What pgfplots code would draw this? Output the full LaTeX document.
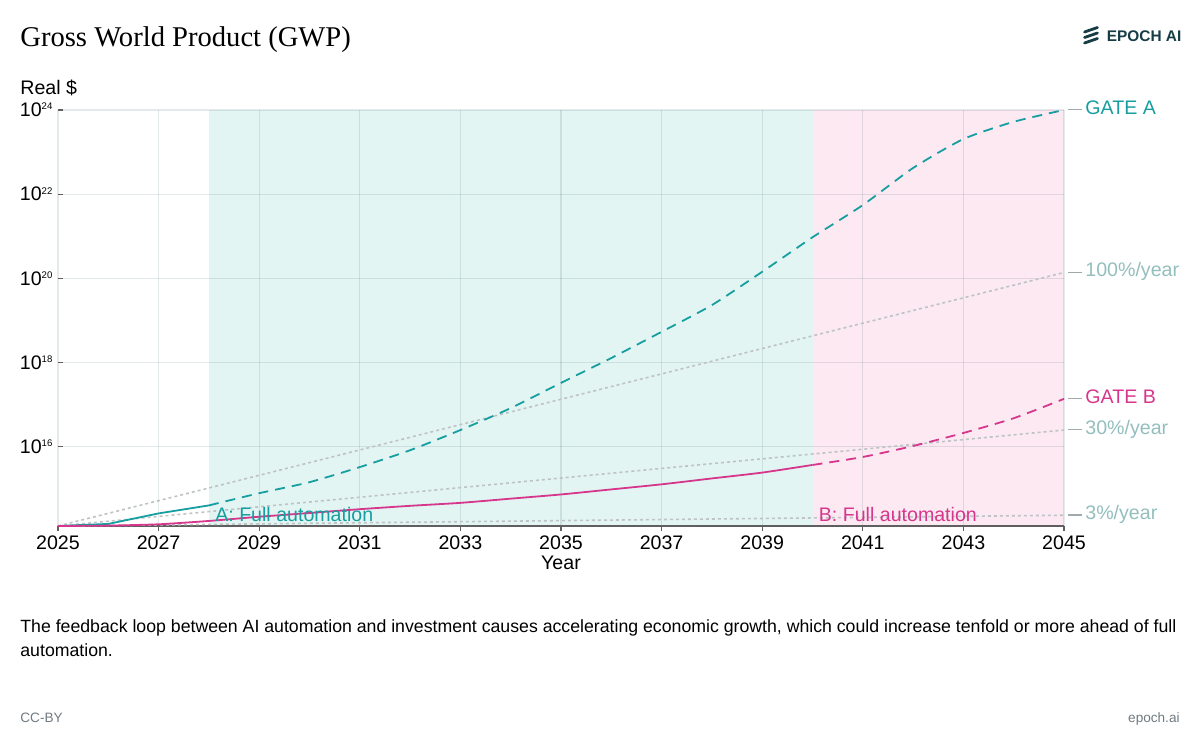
\documentclass[border=0pt]{standalone}
\usepackage{fontspec}
\setmainfont{Liberation Sans}
\newfontfamily\titlefont{Liberation Serif}
\usepackage{pgfplots}
\pgfplotsset{compat=1.18}

\definecolor{gateA}{RGB}{22,158,160}
\definecolor{gateB}{RGB}{214,54,140}
\definecolor{fillA}{RGB}{226,245,243}
\definecolor{fillB}{RGB}{252,233,242}
\definecolor{gridc}{RGB}{228,233,235}
\definecolor{refline}{RGB}{190,195,197}
\definecolor{ratelabel}{RGB}{148,190,190}
\definecolor{dashgray}{RGB}{160,170,172}
\definecolor{axisgray}{RGB}{95,95,95}
\definecolor{logoink}{RGB}{22,60,70}
\definecolor{footgray}{RGB}{112,122,128}

\newcommand\chartfont{\fontsize{9.8}{11.5}\selectfont}
\newcommand\sups[1]{\raisebox{3.4pt}{\fontsize{4.8}{5}\selectfont#1}}
\tikzset{endlabel/.style={anchor=base west, inner sep=0, font=\chartfont, xshift=2pt, yshift=-2.2pt}}
\newcommand\leaddash{\textcolor{dashgray}{\rule[2pt]{7pt}{0.6pt}}\hspace{1.5pt}}

% GWP trajectories (real $), one row per year
\pgfplotstableread{
year  gwp
2025  1.32e14
2026  1.48e14
2027  2.63e14
2028  4.07e14
}\gateAobs
\pgfplotstableread{
year  gwp
2028  4.07e14
2029  7.94e14
2030  1.45e15
2031  3.31e15
2032  8.32e15
2033  2.51e16
2034  8.32e16
2035  3.31e17
2036  1.29e18
2037  5.40e18
2038  2.33e19
2039  1.44e20
2040  9.48e20
2041  5.53e21
2042  4.20e22
2043  2.04e23
2044  5.25e23
2045  1.00e24
}\gateAproj
\pgfplotstableread{
year  gwp
2025  1.32e14
2026  1.35e14
2027  1.45e14
2028  1.74e14
2029  2.19e14
2030  2.69e14
2031  3.31e14
2032  3.98e14
2033  4.68e14
2034  5.89e14
2035  7.41e14
2036  9.77e14
2037  1.29e15
2038  1.78e15
2039  2.45e15
2040  3.72e15
}\gateBobs
\pgfplotstableread{
year  gwp
2040  3.72e15
2041  5.75e15
2042  1.05e16
2043  2.14e16
2044  4.79e16
2045  1.38e17
}\gateBproj

\begin{document}
\begin{tikzpicture}[x=0.5pt,y=-0.5pt]
\path (0,0) rectangle (1200,755);

% header
\node[anchor=base west, inner sep=0, font=\titlefont\fontsize{14.3}{17}\selectfont] at (20,46.5) {Gross World Product (GWP)};
\begin{scope}[logoink, line width=1.4pt, line cap=round]
  \draw (1084.5,32) -- (1097.5,27.5);
  \draw (1084.5,37.5) -- (1097.5,33);
  \draw (1084.5,43) -- (1097.5,38.5);
\end{scope}
\node[anchor=base west, inner sep=0, text=logoink, font=\bfseries\fontsize{7.7}{9}\selectfont] at (1106.5,41.7) {EPOCH AI};
\node[anchor=base west, inner sep=0, font=\chartfont] at (20,94) {Real \$};

% caption and footer
\node[anchor=base west, inner sep=0, font=\fontsize{8.85}{12}\selectfont] at (20,632) {The feedback loop between AI automation and investment causes accelerating economic growth, which could increase tenfold or more ahead of full};
\node[anchor=base west, inner sep=0, font=\fontsize{8.85}{12}\selectfont] at (20,656) {automation.};
\node[anchor=base west, inner sep=0, text=footgray, font=\fontsize{6.8}{8}\selectfont] at (20,722) {CC-BY};
\node[anchor=base east, inner sep=0, text=footgray, font=\fontsize{6.8}{8}\selectfont] at (1180,722) {epoch.ai};

\begin{axis}[
  at={(29pt,-263pt)}, anchor=south west,
  scale only axis, width=503pt, height=208pt,
  set layers, clip=false,
  xmin=2025, xmax=2045,
  ymode=log, ymin=1.32e14, ymax=1e24,
  axis x line*=bottom, axis y line*=left,
  x axis line style={axisgray, line width=1pt, -},
  y axis line style={draw=none},
  tick align=outside, major tick length=2.5pt,
  xtick style={axisgray, line width=0.6pt},
  ytick style={axisgray, line width=0.6pt, xshift=2.5pt},
  minor tick num=0,
  xtick={2025,2027,...,2045},
  ytick={1e16,1e18,1e20,1e22,1e24},
  yticklabels={10\sups{16},10\sups{18},10\sups{20},10\sups{22},10\sups{24}},
  /pgf/number format/1000 sep={},
  /pgf/number format/assume math mode=true,
  xticklabel style={font=\chartfont, yshift=1.2pt},
  yticklabel style={font=\chartfont, xshift=3.2pt},
  grid=major,
  major grid style={line width=0.6pt, draw=gridc, blend mode=multiply},
  xlabel={Year}, xlabel style={font=\chartfont, yshift=3.5pt},
]
% phase shading
\addplot[fillA, fill=fillA, draw=none, on layer=axis background]
  coordinates {(2028,1.32e14) (2028,1e24) (2040,1e24) (2040,1.32e14)} -- cycle;
\addplot[fillB, fill=fillB, draw=none, on layer=axis background]
  coordinates {(2040,1.32e14) (2040,1e24) (2045,1e24) (2045,1.32e14)} -- cycle;

% constant-growth reference paths
\addplot[refline, line width=0.8pt, dash pattern=on 1.5pt off 1.5pt] coordinates {(2025,1.32e14) (2045,2.38e14)};
\addplot[refline, line width=0.8pt, dash pattern=on 1.5pt off 1.5pt] coordinates {(2025,1.32e14) (2045,2.51e16)};
\addplot[refline, line width=0.8pt, dash pattern=on 1.5pt off 1.5pt] coordinates {(2025,1.32e14) (2045,1.384e20)};

% GATE scenarios
\addplot[gateA, line width=0.9pt] table[x=year, y=gwp] {\gateAobs};
\addplot[gateA, line width=0.9pt, dash pattern=on 5pt off 3.5pt, smooth, tension=0.4] table[x=year, y=gwp] {\gateAproj};
\addplot[gateB, line width=0.9pt, smooth, tension=0.4] table[x=year, y=gwp] {\gateBobs};
\addplot[gateB, line width=0.9pt, dash pattern=on 5pt off 3.5pt, smooth, tension=0.4] table[x=year, y=gwp] {\gateBproj};

% annotations
\node[anchor=base west, inner sep=0, font=\chartfont, text=gateA, xshift=3pt, yshift=2.5pt] at (axis cs:2028,1.32e14) {A: Full automation};
\node[anchor=base west, inner sep=0, font=\chartfont, text=gateB, xshift=3pt, yshift=2.5pt] at (axis cs:2040,1.32e14) {B: Full automation};

\node[endlabel, text=gateA] at (axis cs:2045,1e24) {\leaddash GATE A};
\node[endlabel, text=ratelabel] at (axis cs:2045,1.384e20) {\leaddash 100\%/year};
\node[endlabel, text=gateB] at (axis cs:2045,1.38e17) {\leaddash GATE B};
\node[endlabel, text=ratelabel] at (axis cs:2045,2.51e16) {\leaddash 30\%/year};
\node[endlabel, text=ratelabel] at (axis cs:2045,2.38e14) {\leaddash 3\%/year};
\end{axis}
\end{tikzpicture}
\end{document}
